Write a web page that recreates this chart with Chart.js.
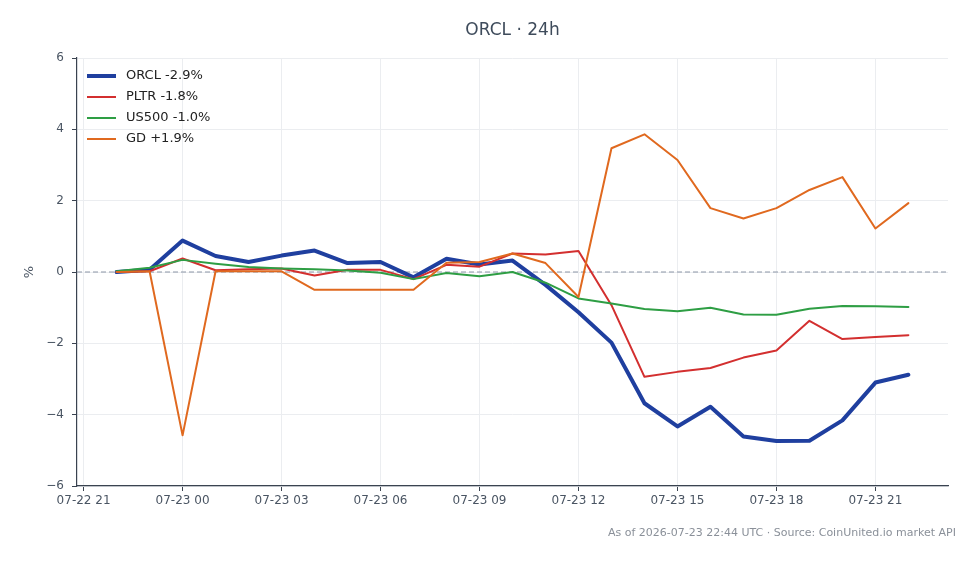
<!DOCTYPE html>
<html lang="en">

<head>
    <meta charset="UTF-8">
    <title>ORCL 24h</title>
    <script src="https://cdn.jsdelivr.net/npm/chart.js"></script>
    <style>
        html, body {
            margin: 0;
            padding: 0;
            background: #ffffff;
        }

        .grafico {
            position: relative;
            width: 980px;
            height: 564px;
        }
    </style>
</head>

<body>
    <div class="grafico">
        <canvas id="myChart"></canvas>
    </div>
</body>

</html>

<script>
    // hourly samples, 07-22 22:00 -> 07-23 22:00 (UTC)
    const horarios = [
        '07-22 22', '07-22 23', '07-23 00', '07-23 01', '07-23 02', '07-23 03', '07-23 04',
        '07-23 05', '07-23 06', '07-23 07', '07-23 08', '07-23 09', '07-23 10', '07-23 11',
        '07-23 12', '07-23 13', '07-23 14', '07-23 15', '07-23 16', '07-23 17', '07-23 18',
        '07-23 19', '07-23 20', '07-23 21', '07-23 22'
    ];

    // % change since start of window
    const orcl = [0, 0.06, 0.88, 0.45, 0.28, 0.46, 0.6, 0.25, 0.28, -0.15, 0.37, 0.21, 0.32,
        -0.36, -1.13, -1.98, -3.68, -4.33, -3.78, -4.61, -4.74, -4.73, -4.16, -3.1, -2.88];
    const pltr = [0, 0.02, 0.38, 0.05, 0.08, 0.1, -0.1, 0.06, 0.06, -0.2, 0.2, 0.15, 0.52,
        0.49, 0.59, -0.93, -2.94, -2.8, -2.69, -2.4, -2.2, -1.37, -1.88, -1.82, -1.77];
    const us500 = [0.02, 0.12, 0.34, 0.23, 0.14, 0.1, 0.08, 0.04, -0.02, -0.2, -0.03, -0.12, 0.0,
        -0.3, -0.74, -0.88, -1.04, -1.1, -1.0, -1.19, -1.2, -1.03, -0.95, -0.96, -0.98];
    const gd = [0, 0.02, -4.58, 0.02, 0.02, 0.02, -0.5, -0.5, -0.5, -0.5, 0.26, 0.28, 0.52,
        0.25, -0.7, 3.47, 3.86, 3.14, 1.79, 1.5, 1.79, 2.3, 2.66, 1.22, 1.93];

    const simbolos = ['ORCL', 'PLTR', 'US500', 'GD'];
    const series = [orcl, pltr, us500, gd];
    const cores = ['#1f3f9f', '#d32f2f', '#2e9e44', '#e0691f'];
    const espessuras = [4, 2, 2, 2];

    const ticksY = [-6, -4, -2, 0, 2, 4, 6];
    const ticksX = ['07-22 21', '07-23 00', '07-23 03', '07-23 06', '07-23 09', '07-23 12',
        '07-23 15', '07-23 18', '07-23 21'];

    const fonte = "'DejaVu Sans', sans-serif";

    // "07-23 05" -> hours relative to 07-23 00
    function paraHoras(txt) {
        var dia = parseInt(txt.slice(3, 5));
        var hora = parseInt(txt.slice(6, 8));
        return (dia - 23) * 24 + hora;
    }

    function rotuloX(v) {
        var dia = v < 0 ? '07-22' : '07-23';
        var h = ((v % 24) + 24) % 24;
        return dia + ' ' + String(h).padStart(2, '0');
    }

    function rotuloLegenda(nome, dados) {
        var ultimo = dados[dados.length - 1];
        var sinal = ultimo >= 0 ? '+' : '-';
        return nome + ' ' + sinal + Math.abs(ultimo).toFixed(1) + '%';
    }

    let datasets = [];
    for (let i = 0; i < series.length; i++) {
        datasets.push({
            label: rotuloLegenda(simbolos[i], series[i]),
            data: series[i].map(function (v, j) {
                return { x: paraHoras(horarios[j]), y: v };
            }),
            borderColor: cores[i],
            backgroundColor: cores[i],
            borderWidth: espessuras[i],
            pointRadius: 0,
            tension: 0,
            fill: false,
            order: series.length - i,
            borderJoinStyle: 'round',
            borderCapStyle: 'round'
        });
    }

    // dashed zero line, title, axis label, footnote and inner legend
    const extras = {
        id: 'extras',
        beforeDatasetsDraw(chart) {
            const ctx = chart.ctx;
            const area = chart.chartArea;
            const y0 = chart.scales.y.getPixelForValue(0);
            ctx.save();
            ctx.strokeStyle = '#8c96a6';
            ctx.lineWidth = 1;
            ctx.setLineDash([5, 3]);
            ctx.beginPath();
            ctx.moveTo(area.left, y0);
            ctx.lineTo(area.right, y0);
            ctx.stroke();
            ctx.restore();
        },
        afterDraw(chart) {
            const ctx = chart.ctx;
            const area = chart.chartArea;
            ctx.save();

            ctx.fillStyle = '#3e4b5b';
            ctx.font = '17px ' + fonte;
            ctx.textAlign = 'center';
            ctx.textBaseline = 'middle';
            ctx.fillText('ORCL · 24h', (area.left + area.right) / 2, 31);

            ctx.save();
            ctx.translate(30, (area.top + area.bottom) / 2);
            ctx.rotate(-Math.PI / 2);
            ctx.fillStyle = '#4a5563';
            ctx.font = '13px ' + fonte;
            ctx.fillText('%', 0, 0);
            ctx.restore();

            ctx.fillStyle = '#8a9099';
            ctx.font = '11px ' + fonte;
            ctx.textAlign = 'right';
            ctx.fillText('As of 2026-07-23 22:44 UTC · Source: CoinUnited.io market API', 956, 533);

            ctx.textAlign = 'left';
            ctx.font = '13px ' + fonte;
            for (let i = 0; i < datasets.length; i++) {
                const y = 76 + i * 21;
                ctx.strokeStyle = cores[i];
                ctx.lineWidth = espessuras[i];
                ctx.beginPath();
                ctx.moveTo(87, y);
                ctx.lineTo(116, y);
                ctx.stroke();
                ctx.fillStyle = '#222222';
                ctx.fillText(datasets[i].label, 126, y);
            }
            ctx.restore();
        }
    };

    const config = {
        type: 'line',
        data: { datasets: datasets },
        options: {
            responsive: true,
            maintainAspectRatio: false,
            animation: false,
            layout: {
                padding: { left: 0, top: 58, right: 32, bottom: 38 }
            },
            plugins: {
                legend: { display: false },
                tooltip: { enabled: false }
            },
            scales: {
                x: {
                    type: 'linear',
                    min: -3.2,
                    max: 23.2,
                    afterFit: function (scale) { scale.height = 40; },
                    afterBuildTicks: function (scale) {
                        scale.ticks = ticksX.map(function (t) { return { value: paraHoras(t) }; });
                    },
                    ticks: {
                        callback: function (v) { return rotuloX(v); },
                        font: { size: 12, family: fonte },
                        color: '#4a5563',
                        padding: 3,
                        maxRotation: 0,
                        autoSkip: false
                    },
                    grid: {
                        color: '#ebedf0',
                        tickColor: '#3a4350',
                        tickLength: 5
                    },
                    border: { color: '#3a4350', width: 1.2 }
                },
                y: {
                    min: -6,
                    max: 6,
                    afterFit: function (scale) { scale.width = 77; },
                    afterBuildTicks: function (scale) {
                        scale.ticks = ticksY.map(function (t) { return { value: t }; });
                    },
                    ticks: {
                        callback: function (v) { return String(v).replace('-', '\u2212'); },
                        font: { size: 12, family: fonte },
                        color: '#4a5563',
                        padding: 8
                    },
                    grid: {
                        color: '#ebedf0',
                        tickColor: '#3a4350',
                        tickLength: 5
                    },
                    border: { color: '#3a4350', width: 1.2 }
                }
            }
        },
        plugins: [extras]
    };

    let ctx = document.getElementById('myChart').getContext('2d');
    let myChart = new Chart(ctx, config);
</script>
